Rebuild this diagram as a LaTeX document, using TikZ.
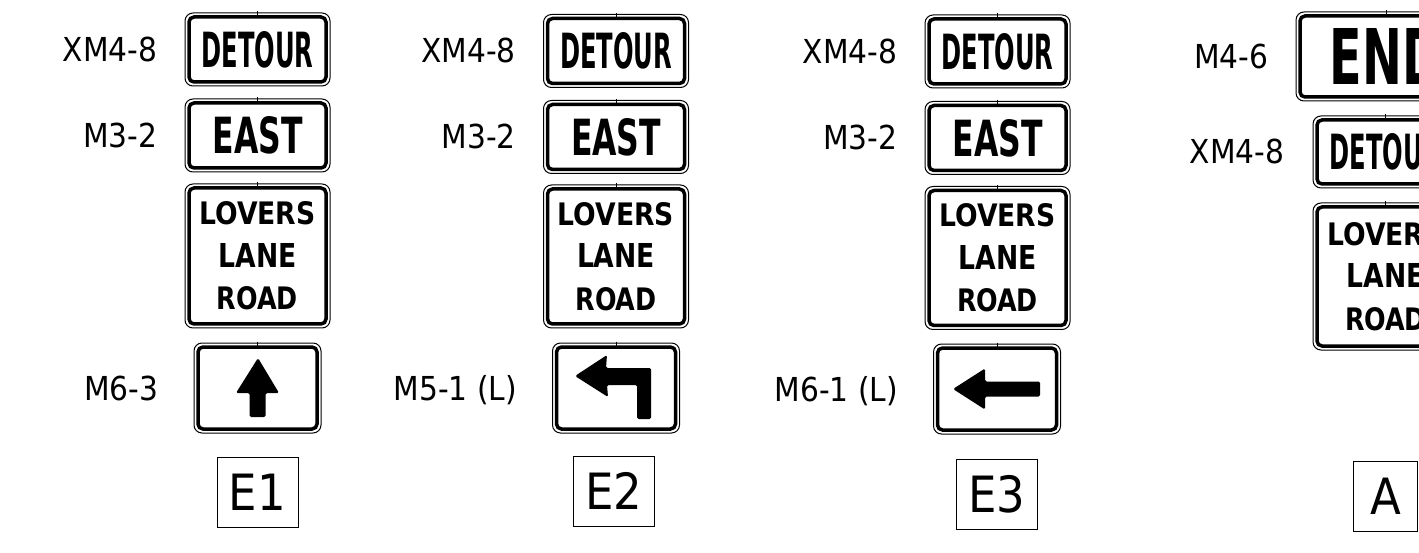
\documentclass[tikz,border=0pt]{standalone}
\usepackage{graphicx}
\usepackage{fontspec}
\usetikzlibrary{positioning}
\newfontfamily\lblfont{DejaVu Sans Condensed}
\newfontfamily\hwyfont{DejaVu Sans Condensed}
\newcommand{\hwy}[3]{\resizebox{#1pt}{#2pt}{\hwyfont\bfseries #3}}

\tikzset{
  roadsign/.style={draw, line width=1pt, rounded corners=8pt, inner sep=0pt},
  signrim/.style={line width=3.5pt, rounded corners=5pt},
  signcode/.style={inner sep=0pt, text height=24pt, text depth=0pt, font=\lblfont\fontsize{33}{33}\selectfont},
  platebox/.style={draw, line width=1pt, inner sep=0pt, minimum width=81pt, minimum height=70pt, font=\lblfont\fontsize{50}{50}\selectfont},
  threeline/.style={align=center, font=\fontsize{10}{42.5}\selectfont},
  wide/.style={minimum width=145pt, minimum height=73pt},
  arrowsign/.style={minimum width=127pt, minimum height=90pt}
}

\begin{document}
\begin{tikzpicture}[x=1pt,y=-1pt]
  \useasboundingbox (0,0) rectangle (1419,553);
  \clip (0,0) rectangle (1419,553);

  % E1
  \node[roadsign,wide] (det1) at (257.5,49.5) {\hwy{112}{36}{DETOUR}};
  \node[roadsign,wide] (east1) at (257.5,135.5) {\hwy{90}{37}{EAST}};
  \node[roadsign,threeline,minimum width=145pt,minimum height=144pt] (lov1) at (257.5,256)
    {\hwy{116}{23}{LOVERS}\\\hwy{78}{24}{LANE}\\\hwy{81}{23}{ROAD}};
  \node[roadsign,arrowsign] (arr1) at (257.5,388) {};
  \node[platebox] (e1) at (257.5,492) {E1};

  \node[signcode,left=27pt of det1] (c11) {XM4-8};
  \node[signcode,left=27pt of east1] (c12) {M3-2};
  \node[signcode,left=35pt of arr1] (c13) {M6-3};

  % E2
  \node[roadsign,wide] (det2) at (616,51) {\hwy{112}{36}{DETOUR}};
  \node[roadsign,wide] (east2) at (616,137) {\hwy{90}{37}{EAST}};
  \node[roadsign,threeline,minimum width=145pt,minimum height=143pt] (lov2) at (616,256.5)
    {\hwy{116}{23}{LOVERS}\\\hwy{78}{24}{LANE}\\\hwy{81}{23}{ROAD}};
  \node[roadsign,arrowsign] (arr2) at (616,388) {};
  \node[platebox] (e2) at (614,491) {E2};

  \node[signcode,left=27pt of det2] (c21) {XM4-8};
  \node[signcode,left=27pt of east2] (c22) {M3-2};
  \node[signcode,left=35pt of arr2] (c23) {M5-1 (L)};

  % E3
  \node[roadsign,wide] (det3) at (997.5,51.5) {\hwy{112}{36}{DETOUR}};
  \node[roadsign,wide] (east3) at (997.5,138) {\hwy{90}{37}{EAST}};
  \node[roadsign,threeline,minimum width=145pt,minimum height=143pt] (lov3) at (997.5,258)
    {\hwy{116}{23}{LOVERS}\\\hwy{78}{24}{LANE}\\\hwy{81}{23}{ROAD}};
  \node[roadsign,arrowsign] (arr3) at (997,389) {};
  \node[platebox] (e3) at (997,494.5) {E3};

  \node[signcode,left=27pt of det3] (c31) {XM4-8};
  \node[signcode,left=27pt of east3] (c32) {M3-2};
  \node[signcode,left=35pt of arr3] (c33) {M6-1 (L)};

  % A
  \node[roadsign,minimum width=180pt,minimum height=89pt] (end4) at (1386,56.5) {\hwy{112}{56}{END}};
  \node[roadsign,minimum width=145pt,minimum height=72pt] (det4) at (1385.5,152) {\hwy{112}{36}{DETOUR}};
  \node[roadsign,threeline,minimum width=145pt,minimum height=147pt] (lov4) at (1385.5,276.5)
    {\hwy{116}{23}{LOVERS}\\\hwy{78}{24}{LANE}\\\hwy{81}{23}{ROAD}};
  \node[platebox,minimum width=64pt] (a4) at (1385.5,496) {A};

  \node[signcode,left=27pt of end4] (c41) {M4-6};
  \node[signcode,left=28pt of det4] (c42) {XM4-8};

  % inner rims and top ticks
  \foreach \s in {det1,east1,lov1,arr1,det2,east2,lov2,arr2,det3,east3,lov3,arr3,end4,det4,lov4}{
    \draw[signrim] ([xshift=4.5pt,yshift=-4.5pt]\s.north west) rectangle ([xshift=-4.5pt,yshift=4.5pt]\s.south east);
    \draw[line width=0.8pt] ([yshift=1pt]\s.north) -- ([yshift=-3pt]\s.north);
  }

  % arrows
  \fill[shift={(arr1.center)},rounded corners=1.5pt] (0.5,-30) -- (21.5,5) -- (8,5) -- (8,29)
    -- (-8,29) -- (-8,5) -- (-21.5,5) -- cycle;
  \fill[shift={(arr2.center)},rounded corners=1.5pt] (-41,-12) -- (-9,-33) -- (-10,-20) -- (35,-20)
    -- (35,31) -- (21,31) -- (21,-3) -- (-9,-3) -- (-8,9) -- cycle;
  \fill[shift={(arr3.center)},rounded corners=1.5pt] (-44,0) -- (-12,-20.5) -- (-12,-7.5) -- (43,-7.5)
    -- (43,7.5) -- (-12,7.5) -- (-12,20.5) -- cycle;
\end{tikzpicture}
\end{document}
